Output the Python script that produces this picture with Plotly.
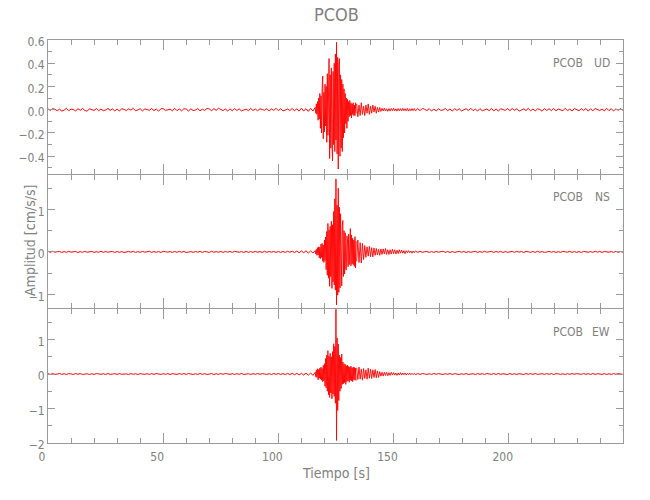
import plotly.graph_objects as go
from plotly.subplots import make_subplots

# ---------------- text ----------------
title = "PCOB"
station = "PCOB"
components = ["UD", "NS", "EW"]
x_label = "Tiempo [s]"
y_label = "Amplitud [cm/s/s]"

# ---------------- sampling of each piece of the records (s) ----------------
pre_x0, pre_dx = 0.0, 1.0        # quiet part before the event
burst_x0, burst_dx = 116.0, 0.25 # strong motion
coda_x0, coda_dx = 134.0, 0.5    # coda
post_x0, post_dx = 159.5, 1.0    # quiet part after the event

# ---------------- UD component (cm/s/s) ----------------
ud_pre = [0.008,-0.006,0.010,0.004,-0.009,0.005,-0.011,-0.004,0.012,-0.008,
          0.006,0.002,-0.010,0.009,-0.005,0.011,-0.007,-0.012,0.008,0.003,
          -0.006,0.010,-0.009,0.006,-0.008,-0.003,0.011,-0.005,0.007,-0.010,
          0.005,-0.011,0.010,0.003,-0.007,0.008,-0.004,0.012,-0.009,-0.002,
          0.009,-0.010,0.007,0.002,-0.005,0.011,-0.008,0.006,-0.012,0.008,
          0.010,-0.006,-0.002,0.005,-0.009,0.012,-0.008,0.007,-0.010,0.009,
          0.006,-0.011,0.008,-0.007,-0.003,0.010,-0.009,0.005,-0.006,0.011,
          0.007,-0.008,0.009,-0.005,0.012,0.003,-0.007,0.006,-0.011,0.008,
          -0.009,0.010,-0.006,0.007,-0.010,-0.002,0.005,-0.008,0.011,-0.007,
          0.006,-0.009,0.008,0.002,-0.005,0.010,-0.011,0.007,-0.006,0.012,
          -0.008,0.009,-0.010,-0.003,0.006,-0.007,0.011,-0.009,0.008,-0.012,
          0.013,-0.010,0.009,-0.014,0.012,-0.011,0.02]
ud_burst = [0.02,-0.03,0.05,-0.04,0.07,-0.09,0.10,-0.08,
            0.14,-0.16,0.12,-0.20,0.18,0.29,-0.25,0.15,
            -0.19,0.22,-0.14,0.20,-0.28,0.31,-0.22,0.37,
            0.44,-0.42,0.30,-0.33,0.36,-0.28,-0.44,0.33,
            -0.30,0.40,-0.36,0.48,-0.26,0.58,-0.38,0.45,
            -0.51,0.38,0.44,-0.40,0.30,-0.33,0.26,-0.36,
            0.22,-0.24,0.18,-0.20,0.14,-0.12,0.10,-0.16,
            0.09,-0.10,0.07,-0.06,0.08,-0.05,0.06,-0.07,
            0.05,-0.04,0.06,-0.05,0.04,-0.05,0.06,-0.03]
ud_coda = [0.05,-0.06,0.04,-0.05,0.06,-0.04,0.03,-0.05,0.04,-0.03,
           0.05,-0.04,0.03,-0.03,0.04,-0.02,0.03,-0.03,0.02,-0.02,
           0.02,-0.015,0.012,-0.010,0.014,-0.011,0.009,-0.013,0.010,-0.012,
           0.011,-0.009,0.013,-0.010,0.008,-0.012,0.011,-0.009,0.010,-0.011,
           0.012,-0.008,0.009,-0.010,0.011,-0.012,0.008,-0.009,0.010,-0.008,
           0.011,-0.009]
ud_post = [-0.009,0.010,-0.008,0.012,0.003,-0.007,0.009,-0.011,0.006,-0.010,
           0.008,-0.005,-0.002,0.011,-0.009,0.007,-0.012,0.010,-0.006,0.008,
           -0.010,0.002,0.009,-0.007,0.012,-0.008,0.005,-0.011,0.010,-0.009,
           -0.003,0.006,-0.008,0.011,-0.010,0.007,-0.012,0.009,0.002,-0.006,
           0.010,-0.008,0.011,-0.005,0.009,-0.011,-0.003,0.008,-0.007,0.012,
           -0.009,0.006,-0.010,0.008,0.002,-0.012,0.010,-0.006,0.009,-0.008,
           0.011,-0.010,0.007,-0.003,-0.009,0.012,-0.007,0.005,-0.011,0.010,
           0.003,-0.008,0.009,-0.006,0.011,-0.012,0.008,-0.009,0.010,-0.002,
           -0.007,0.006,-0.010,0.012,-0.008,0.009,-0.011,0.007,-0.005,0.010,
           -0.006]

# ---------------- NS component (cm/s/s) ----------------
ns_pre = [0.012,-0.010,0.015,-0.008,0.004,0.011,-0.014,0.009,-0.012,0.013,
          -0.007,-0.003,0.010,-0.015,0.008,-0.011,0.014,-0.009,0.002,0.012,
          -0.013,0.007,-0.010,0.015,-0.012,0.009,-0.008,-0.002,0.013,-0.014,
          0.010,-0.011,0.008,-0.015,0.004,0.011,-0.009,0.014,-0.012,0.007,
          -0.010,0.012,-0.008,-0.003,0.015,-0.013,0.009,-0.011,0.010,-0.014,
          0.013,0.003,-0.007,0.008,-0.012,0.011,-0.010,0.014,-0.009,0.012,
          -0.015,-0.004,0.007,-0.011,0.010,-0.008,0.013,-0.012,0.009,0.002,
          -0.014,0.015,-0.010,0.008,-0.009,0.011,-0.013,0.012,-0.007,0.010,
          -0.012,0.014,0.003,-0.008,0.009,-0.015,0.013,-0.011,0.007,-0.010,
          0.012,-0.009,0.008,-0.013,0.015,-0.012,0.010,-0.008,0.011,-0.014,
          0.011,-0.012,0.010,-0.013,0.015,-0.011,0.018,-0.016,0.020,-0.022,
          0.024,-0.020,0.025,-0.028,0.022,-0.026,0.03]
ns_burst = [0.03,-0.05,0.06,-0.08,0.10,-0.07,0.12,-0.14,
            0.11,-0.16,0.18,-0.13,0.20,-0.22,0.16,-0.25,
            0.28,-0.20,0.35,-0.42,0.48,-0.55,0.67,-0.62,
            0.52,-0.81,0.60,-0.58,0.72,-0.86,0.64,-0.70,
            0.95,-0.78,1.25,-0.90,1.72,-1.25,1.10,-1.02,
            1.50,-0.95,1.05,-0.85,0.90,-0.72,-0.80,0.62,
            0.74,-0.58,0.50,-0.52,0.45,-0.40,-0.43,0.38,
            0.30,-0.35,0.42,-0.30,0.43,0.55,-0.33,0.40,
            -0.28,0.32,-0.30,0.28,-0.34,0.36,-0.38,0.25]
ns_coda = [-0.22,0.28,-0.25,0.22,-0.26,0.20,-0.18,0.15,
           -0.13,0.12,-0.10,0.13,-0.11,0.10,-0.12,0.09,-0.08,
           0.08,-0.07,0.06,-0.08,0.07,-0.06,0.07,-0.05,0.08,-0.06,
           0.05,-0.06,0.05,-0.05,0.06,-0.04,0.05,-0.05,0.04,-0.04,0.05,-0.03,
           0.04,-0.03,0.03,-0.04,0.03,-0.02,0.03,-0.02,0.02,-0.03,0.02,-0.02,0.02]
ns_post = [0.02,-0.012,0.014,-0.010,0.003,0.011,-0.015,0.009,-0.013,0.012,
           -0.008,-0.002,0.015,-0.011,0.010,-0.014,0.008,-0.012,0.004,0.013,
           -0.009,0.011,-0.015,0.007,-0.010,-0.003,0.014,-0.012,0.009,-0.011,
           0.015,-0.008,0.002,0.012,-0.013,0.010,-0.009,0.013,-0.014,0.008,
           -0.010,-0.004,0.011,-0.012,0.014,-0.007,0.009,-0.015,0.012,0.003,
           -0.011,0.010,-0.013,0.015,-0.009,0.008,-0.012,-0.002,0.013,-0.010,
           0.011,-0.014,0.007,-0.011,0.012,0.003,-0.008,0.014,-0.013,0.010,
           -0.012,0.009,-0.015,0.013,-0.004,-0.010,0.008,-0.011,0.015,-0.009,
           0.012,-0.014,0.011,0.002,-0.008,0.010,-0.013,0.014,-0.012,0.009,
           -0.010]

# ---------------- EW component (cm/s/s) ----------------
ew_pre = [0.010,-0.013,0.012,-0.009,-0.003,0.015,-0.011,0.008,-0.014,0.011,
          0.002,-0.010,0.013,-0.008,0.014,-0.012,-0.004,0.009,-0.015,0.010,
          -0.011,0.012,0.003,-0.009,0.008,-0.013,0.015,-0.010,-0.002,0.011,
          -0.012,0.013,-0.008,0.009,0.004,-0.014,0.014,-0.011,0.010,-0.015,
          0.012,-0.003,-0.009,0.008,-0.012,0.011,-0.010,0.015,0.002,-0.013,
          0.009,-0.008,0.012,-0.014,0.010,-0.004,-0.011,0.013,-0.009,0.011,
          -0.010,0.014,0.003,-0.013,0.008,-0.012,0.015,-0.009,0.010,-0.011,
          -0.002,0.013,-0.015,0.009,-0.010,0.012,-0.008,0.014,0.004,-0.012,
          0.011,-0.013,0.008,-0.009,0.015,-0.011,-0.003,0.010,-0.014,0.012,
          -0.010,0.013,-0.008,0.009,0.002,-0.012,0.011,-0.015,0.014,-0.009,
          0.014,-0.013,0.012,-0.016,0.018,-0.015,0.020,-0.022,0.019,-0.025,
          0.020,-0.030,0.025,-0.035,0.030,-0.040,0.05]
ew_burst = [0.05,-0.08,0.12,-0.10,0.15,-0.17,0.13,-0.12,
            0.17,-0.15,0.20,-0.18,0.16,-0.22,0.25,-0.20,
            0.30,-0.35,0.45,-0.40,0.55,-0.50,0.68,-0.60,
            0.52,-0.68,0.60,-0.55,0.50,-0.72,0.65,-0.58,
            0.88,-0.65,0.80,-0.85,2.10,-1.93,1.05,-1.06,
            0.87,-0.77,0.55,-0.50,0.48,-0.42,0.58,-0.30,
            0.35,-0.28,0.30,-0.25,0.28,-0.30,0.24,-0.22,
            0.26,-0.20,0.22,-0.24,0.20,-0.18,0.23,-0.20,
            0.18,-0.22,0.20,-0.16,0.19,-0.18,0.17,-0.19]
ew_coda = [0.18,-0.16,0.20,-0.15,0.14,-0.18,0.16,-0.13,0.12,-0.15,
           0.17,-0.12,0.14,-0.13,0.12,-0.10,0.13,-0.11,0.09,-0.10,
           0.07,-0.06,0.05,-0.06,0.05,-0.04,0.05,-0.05,0.04,-0.04,0.05,-0.03,
           0.04,-0.03,0.03,-0.04,0.03,-0.03,0.04,-0.03,0.03,-0.02,
           0.03,-0.03,0.02,-0.02,0.03,-0.02,0.02,-0.02,0.02,-0.02]
ew_post = [-0.02,0.013,-0.010,0.012,0.003,-0.014,0.009,-0.011,0.015,-0.008,
           0.012,-0.002,-0.013,0.010,-0.009,0.014,-0.012,0.011,0.004,-0.015,
           0.008,-0.010,0.013,-0.011,-0.003,0.009,-0.014,0.012,-0.008,0.010,
           -0.013,0.015,0.002,-0.009,0.011,-0.012,0.014,-0.010,0.008,-0.004,
           -0.015,0.013,-0.011,0.009,-0.012,0.010,0.003,-0.014,0.012,-0.008,
           0.011,-0.013,0.015,-0.010,-0.002,0.009,-0.011,0.012,-0.009,0.013,
           -0.015,0.010,0.004,-0.012,0.008,-0.014,0.011,-0.010,0.013,-0.008,
           0.012,-0.003,-0.011,0.014,-0.009,0.010,-0.013,0.015,-0.012,0.009,
           0.002,-0.010,0.011,-0.014,0.008,-0.012,0.013,-0.009,0.010,-0.003,
           -0.009]

# ---------------- axis ranges / ticks ----------------
x_range = [0, 249.6]
y_ranges = [[-0.55, 0.60], [-1.33, 1.82], [-2.005, 1.88]]
y_dticks = [0.2, 1.0, 1.0]
y_minor = [0.1, 0.5, 0.5]
y_formats = [".1f", "d", "d"]

records = [
    (ud_pre, ud_burst, ud_coda, ud_post),
    (ns_pre, ns_burst, ns_coda, ns_post),
    (ew_pre, ew_burst, ew_coda, ew_post),
]
segments = [(pre_x0, pre_dx), (burst_x0, burst_dx), (coda_x0, coda_dx), (post_x0, post_dx)]

RED = "#ff0000"
GRAY = "#9a9a9a"
TXT = "#808080"
FONT = "Liberation Sans Narrow, DejaVu Sans Condensed, Arial Narrow, sans-serif"

fig = make_subplots(rows=3, cols=1, shared_xaxes=True, vertical_spacing=0)

for r, rec in enumerate(records, start=1):
    for k, (vals, (x0, dx)) in enumerate(zip(rec, segments)):
        fig.add_trace(go.Scatter(y=vals, x0=x0, dx=dx, mode="lines",
                                 line=dict(color=RED, width=1.0 if k in (0, 3) else 0.9),
                                 showlegend=False, hoverinfo="skip"),
                      row=r, col=1)

# page pixels (the body margin is removed by the post script below)
W, H = 650, 500
L, R, T, B = 48, 623, 40, 443
pw, ph = R - L, B - T
gap = 1.0 / ph                      # 1 px so neighbouring frame lines coincide
h3 = (1.0 - 2 * gap) / 3.0
domains = [[2 * h3 + 2 * gap, 1.0], [h3 + gap, 2 * h3 + gap], [0.0, h3]]

for i in range(3):
    xa = dict(range=x_range, showline=True, linecolor=GRAY, linewidth=1,
              mirror="allticks", ticks="inside", ticklen=10, tickcolor=GRAY,
              tick0=0, dtick=50, showgrid=False, zeroline=False,
              minor=dict(ticks="inside", dtick=10, tick0=0, ticklen=5,
                         tickcolor=GRAY, showgrid=False),
              showticklabels=(i == 2), automargin=False, ticklabelshift=-6,
              ticklabelstandoff=3,
              tickfont=dict(family=FONT, size=12, color=TXT))
    ya = dict(range=y_ranges[i], domain=domains[i], showline=True, linecolor=GRAY,
              linewidth=1, mirror="allticks", ticks="inside", ticklen=7,
              tickcolor=GRAY, tick0=0, dtick=y_dticks[i], tickformat=y_formats[i],
              showgrid=False, zeroline=False, automargin=False, ticklabelshift=2,
              minor=dict(ticks="inside", dtick=y_minor[i], tick0=0, ticklen=4,
                         tickcolor=GRAY, showgrid=False),
              tickfont=dict(family=FONT, size=12, color=TXT))
    fig.update_xaxes(xa, row=i + 1, col=1)
    fig.update_yaxes(ya, row=i + 1, col=1)


def px_x(p):
    return (p - L) / pw


def px_y(p):
    return (B - p) / ph


annotations = [
    dict(text=title, x=px_x(336), y=px_y(14), xref="paper", yref="paper",
         showarrow=False, font=dict(family=FONT, size=18, color=TXT),
         xanchor="center", yanchor="middle"),
    dict(text=x_label, x=px_x(336), y=px_y(473), xref="paper", yref="paper",
         showarrow=False, font=dict(family=FONT, size=14, color=TXT),
         xanchor="center", yanchor="middle"),
    dict(text=y_label, x=px_x(30), y=px_y(241), xref="paper", yref="paper",
         showarrow=False, textangle=-90, font=dict(family=FONT, size=14, color=TXT),
         xanchor="center", yanchor="middle"),
]
label_y = [63, 197, 332]
for comp, ly in zip(components, label_y):
    annotations.append(dict(text=station, x=px_x(585), y=px_y(ly), xref="paper",
                            yref="paper", showarrow=False, xanchor="right",
                            yanchor="middle",
                            font=dict(family=FONT, size=12, color=TXT)))
    annotations.append(dict(text=comp, x=px_x(612), y=px_y(ly), xref="paper",
                            yref="paper", showarrow=False, xanchor="right",
                            yanchor="middle",
                            font=dict(family=FONT, size=12, color=TXT)))

fig.update_layout(width=W, height=H,
                  margin=dict(l=L, r=W - R, t=T, b=H - B, pad=0),
                  paper_bgcolor="white", plot_bgcolor="white",
                  showlegend=False, hovermode=False,
                  annotations=annotations)

fig.write_html("out.html", config={"displayModeBar": False},
               post_script="document.body.style.margin='0px';")
